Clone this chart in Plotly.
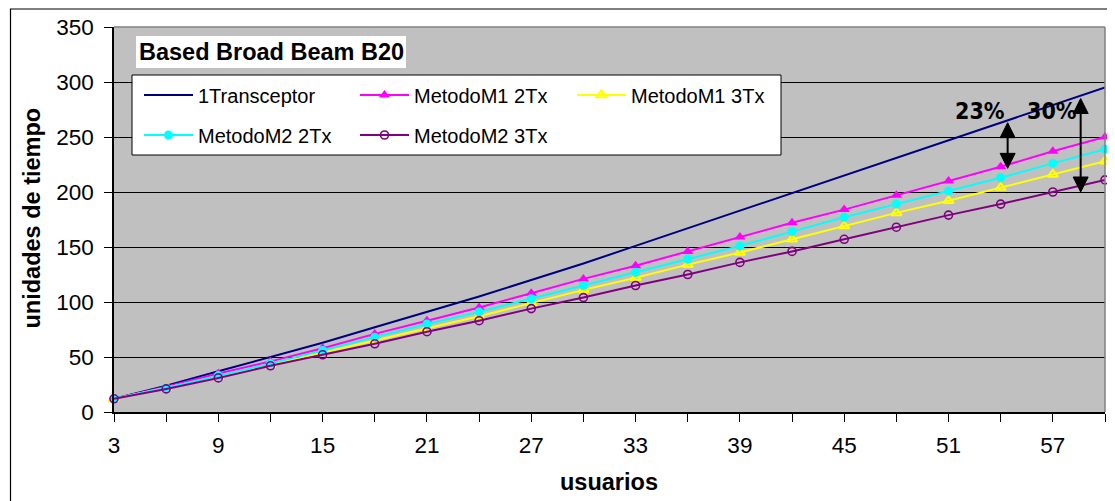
import plotly.graph_objects as go

# ---------------- data ----------------
usuarios = [3, 6, 9, 12, 15, 18, 21, 24, 27, 30, 33, 36, 39, 42, 45, 48, 51, 54, 57, 60]
x_tick_labels = ["3", "", "9", "", "15", "", "21", "", "27", "", "33", "", "39", "", "45", "", "51", "", "57", ""]

transceptor_1 = [12, 24, 37, 50, 63, 77, 91, 105, 120, 135, 151, 167, 183, 199, 215, 231, 247, 263, 279, 295]
metodo_m1_2tx = [12, 23, 35, 46, 58, 71, 83, 95, 108, 121, 133, 146, 159, 172, 184, 197, 210, 223, 237, 250]
metodo_m1_3tx = [12, 22, 32, 43, 54, 65, 76, 87, 99, 111, 122, 134, 145, 157, 169, 181, 192, 204, 216, 228]
metodo_m2_2tx = [12, 22, 33, 44, 56, 68, 80, 91, 103, 115, 127, 139, 151, 164, 177, 189, 201, 213, 226, 239]
metodo_m2_3tx = [12, 21, 31, 42, 52, 62, 73, 83, 94, 104, 115, 125, 136, 146, 157, 168, 179, 189, 200, 211]

y_ticks = [0, 50, 100, 150, 200, 250, 300, 350]

# annotation data (percent differences shown with double arrows)
pct_labels = ["23%", "30%"]
pct_label_x = [52.8, 56.95]
pct_label_y = [273.6, 273.6]
arrow_x = [54.4, 58.6]
arrow_top = [263, 285]
arrow_bottom = [221.5, 200]

# ---------------- layout geometry ----------------
# the page body has an 8px margin; target pixel positions are in window coordinates
OFF = 8
W, H = 1115 - OFF, 501 - OFF
L, T = 114 - OFF, 27 - OFF
R = W - (1105 - OFF)
B = H - (412 - OFF)
PW, PH = W - L - R, H - T - B
XMIN, XMAX = 3, 60
YMIN, YMAX = 0, 350
px_per_x = PW / (XMAX - XMIN)
px_per_y = PH / (YMAX - YMIN)


def px_to_paper_x(px):
    return (px - OFF - L) / PW


def px_to_paper_y(py):
    return (H - B - (py - OFF)) / PH


FONT = "Liberation Sans, Arial, sans-serif"

fig = go.Figure()

series = [
    ("1Transceptor", transceptor_1, "#000080", None, "legend"),
    ("MetodoM1 2Tx", metodo_m1_2tx, "#FF00FF", dict(symbol="triangle-up", size=10), "legend2"),
    ("MetodoM1 3Tx", metodo_m1_3tx, "#FFFF00", dict(symbol="triangle-up-open", size=9, line=dict(width=2, color="#FFFF00")), "legend3"),
    ("MetodoM2 2Tx", metodo_m2_2tx, "#00FFFF", dict(symbol="circle", size=9), "legend4"),
    ("MetodoM2 3Tx", metodo_m2_3tx, "#800080", dict(symbol="circle-open", size=8, line=dict(width=1.6, color="#800080")), "legend5"),
]

for name, vals, color, marker, leg in series:
    kw = dict(x=usuarios, y=vals, name=name, line=dict(color=color, width=2),
              cliponaxis=False, legend=leg)
    if marker is None:
        kw["mode"] = "lines"
    else:
        m = dict(marker)
        m["color"] = color
        kw["mode"] = "lines+markers"
        kw["marker"] = m
    fig.add_trace(go.Scatter(**kw))

# legends: one per entry, placed in a 3x2 grid (inside the plot area)
leg_line_start = [144, 360, 577, 144, 360]
leg_row_y = [95, 95, 95, 135, 135]
legend_layouts = {}
for i, key in enumerate(["legend", "legend2", "legend3", "legend4", "legend5"]):
    legend_layouts[key] = dict(
        x=px_to_paper_x(leg_line_start[i] - 5), xref="paper", xanchor="left",
        y=px_to_paper_y(leg_row_y[i]), yref="paper", yanchor="middle",
        bgcolor="rgba(0,0,0,0)", borderwidth=0,
        font=dict(family=FONT, size=20, color="black"),
        itemwidth=49, tracegroupgap=0,
    )

shapes = []
# outer chart border (left/top visible)
shapes.append(dict(type="rect", xref="paper", yref="paper",
                   x0=px_to_paper_x(10.5), x1=px_to_paper_x(1130),
                   y0=px_to_paper_y(520), y1=px_to_paper_y(9),
                   line=dict(color="black", width=1.2), fillcolor="rgba(0,0,0,0)", layer="above"))
# plot area gray border top & right
shapes.append(dict(type="line", xref="paper", yref="paper", x0=0, x1=1, y0=1, y1=1,
                   line=dict(color="#808080", width=1.5), layer="above"))
shapes.append(dict(type="line", xref="paper", yref="paper", x0=1, x1=1, y0=0, y1=1,
                   line=dict(color="#808080", width=1.5), layer="above"))
# title white box
shapes.append(dict(type="rect", xref="paper", yref="paper",
                   x0=px_to_paper_x(136), x1=px_to_paper_x(406),
                   y0=px_to_paper_y(68), y1=px_to_paper_y(36),
                   line=dict(width=0), fillcolor="white", layer="above"))
# legend box
shapes.append(dict(type="rect", xref="paper", yref="paper",
                   x0=px_to_paper_x(132), x1=px_to_paper_x(781),
                   y0=px_to_paper_y(155), y1=px_to_paper_y(75),
                   line=dict(color="black", width=1), fillcolor="white", layer="above"))

# double arrows
head_h = 15 / px_per_y
head_hw = 7.5 / px_per_x
for ax, yt, yb in zip(arrow_x, arrow_top, arrow_bottom):
    shapes.append(dict(type="line", xref="x", yref="y", x0=ax, x1=ax, y0=yb + head_h * 0.5, y1=yt - head_h * 0.5,
                       line=dict(color="black", width=2), layer="above"))
    shapes.append(dict(type="path", xref="x", yref="y",
                       path=f"M {ax},{yt} L {ax - head_hw},{yt - head_h} L {ax + head_hw},{yt - head_h} Z",
                       fillcolor="black", line=dict(color="black", width=1), layer="above"))
    shapes.append(dict(type="path", xref="x", yref="y",
                       path=f"M {ax},{yb} L {ax - head_hw},{yb + head_h} L {ax + head_hw},{yb + head_h} Z",
                       fillcolor="black", line=dict(color="black", width=1), layer="above"))

annotations = []
annotations.append(dict(text="<b>Based Broad Beam B20</b>", xref="paper", yref="paper",
                        x=px_to_paper_x(271), y=px_to_paper_y(52), xanchor="center", yanchor="middle",
                        showarrow=False, font=dict(family=FONT, size=23.5, color="black")))
for t, tx, ty in zip(pct_labels, pct_label_x, pct_label_y):
    annotations.append(dict(text=f"<b>{t}</b>", x=tx, y=ty, xref="x", yref="y",
                            xanchor="center", yanchor="middle", showarrow=False,
                            font=dict(family="Liberation Sans Narrow, DejaVu Sans Condensed, sans-serif",
                                      size=23, color="black")))
# axis titles
annotations.append(dict(text="<b>unidades de tiempo</b>", xref="paper", yref="paper",
                        x=px_to_paper_x(31.5), y=px_to_paper_y(218), textangle=-90,
                        xanchor="center", yanchor="middle", showarrow=False,
                        font=dict(family=FONT, size=23.5, color="black")))
annotations.append(dict(text="<b>usuarios</b>", xref="paper", yref="paper",
                        x=px_to_paper_x(608.5), y=px_to_paper_y(482),
                        xanchor="center", yanchor="middle", showarrow=False,
                        font=dict(family=FONT, size=23.5, color="black")))

fig.update_layout(
    width=W, height=H,
    margin=dict(l=L, r=R, t=T, b=B, pad=0, autoexpand=False),
    paper_bgcolor="white", plot_bgcolor="#C0C0C0",
    showlegend=True,
    shapes=shapes, annotations=annotations,
    **legend_layouts,
)

fig.update_xaxes(
    range=[XMIN, XMAX], tickmode="array", tickvals=usuarios, ticktext=x_tick_labels,
    showgrid=False, zeroline=False, showline=True, linecolor="black", linewidth=1.5,
    ticks="outside", ticklen=8, tickwidth=1, tickcolor="black",
    tickfont=dict(family=FONT, size=22.5, color="black"), ticklabelstandoff=4,
)
fig.update_yaxes(
    range=[YMIN, YMAX], tickmode="array", tickvals=y_ticks,
    showgrid=True, gridcolor="black", gridwidth=1, zeroline=False,
    showline=True, linecolor="black", linewidth=1.5,
    ticks="outside", ticklen=8, tickwidth=1, tickcolor="black",
    tickfont=dict(family=FONT, size=22.5, color="black"), ticklabelstandoff=6,
)

fig.write_html("out.html")
